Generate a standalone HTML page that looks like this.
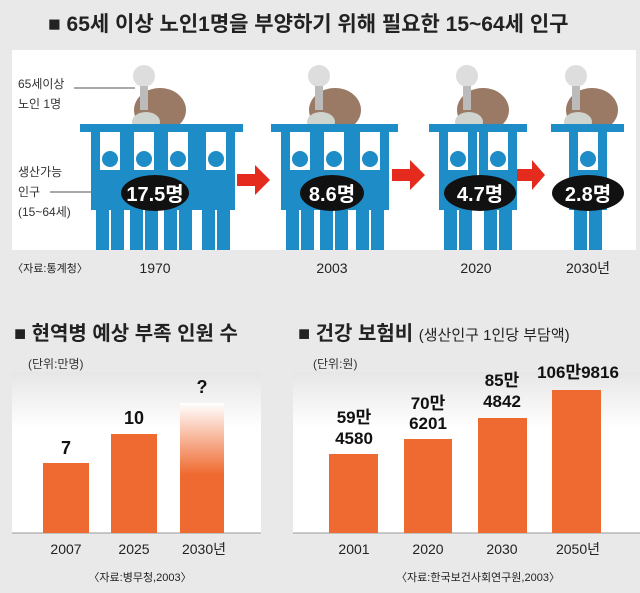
<!DOCTYPE html>
<html><head><meta charset="utf-8"><style>
body{margin:0;background:#e9e9e9;}
svg{display:block}
text{font-family:"Liberation Sans","Noto Sans CJK KR",sans-serif;}
</style></head><body>
<svg width="640" height="593" viewBox="0 0 640 593" xmlns="http://www.w3.org/2000/svg">
<defs>
<g id="p">
<rect x="1" y="0" width="9" height="52" fill="#1e8cc6"/>
<rect x="30" y="0" width="9" height="52" fill="#1e8cc6"/>
<circle cx="20" cy="31" r="8" fill="#1e8cc6"/>
<path d="M1 50 Q1 42 10 42 L30 42 Q39 42 39 50 L39 82 L1 82Z" fill="#1e8cc6"/>
<rect x="6" y="80" width="13" height="42" fill="#1e8cc6"/>
<rect x="21" y="80" width="13" height="42" fill="#1e8cc6"/>
</g>
<g id="m">
<ellipse cx="30" cy="50" rx="26" ry="22" fill="#9a7a64"/>
<ellipse cx="16" cy="62" rx="14" ry="10" fill="#cfd4cf"/>
<circle cx="14" cy="16" r="11" fill="#ddd"/>
<rect x="10" y="26" width="8" height="24" fill="#bbb"/>
</g>
<linearGradient id="bg" x1="0" y1="0" x2="0" y2="1"><stop offset="0" stop-color="#e6e6e6"/><stop offset="0.35" stop-color="#fff"/><stop offset="1" stop-color="#fff"/></linearGradient>
<linearGradient id="q" x1="0" y1="0" x2="0" y2="1"><stop offset="0" stop-color="#fff"/><stop offset="0.55" stop-color="#ef6a30"/><stop offset="1" stop-color="#ef6a30"/></linearGradient>
</defs>
<rect x="12" y="50" width="624" height="200" fill="#fff"/>
<text x="48" y="31" font-size="21" font-weight="bold" fill="#222">■ 65세 이상 노인1명을 부양하기 위해 필요한 15~64세 인구</text>
<text x="18" y="88" font-size="12" fill="#333">65세이상</text>
<text x="18" y="108" font-size="12" fill="#333">노인 1명</text>
<line x1="74" y1="88" x2="135" y2="88" stroke="#555"/>
<text x="18" y="176" font-size="12" fill="#333">생산가능</text>
<text x="18" y="196" font-size="12" fill="#333">인구</text>
<text x="18" y="216" font-size="12" fill="#333">(15~64세)</text>
<line x1="50" y1="192" x2="105" y2="192" stroke="#555"/>
<!-- groups -->
<g>
<use href="#m" x="130" y="60"/>
<rect x="80" y="124" width="163" height="8" fill="#1e8cc6"/>
<use href="#p" x="90" y="128"/><use href="#p" x="124" y="128"/><use href="#p" x="158" y="128"/><use href="#p" x="196" y="128"/>
<ellipse cx="155" cy="193" rx="34" ry="18" fill="#111"/>
<text x="155" y="201" font-size="20" font-weight="bold" fill="#fff" text-anchor="middle">17.5명</text>
</g>
<g>
<use href="#m" x="305" y="60"/>
<rect x="271" y="124" width="127" height="8" fill="#1e8cc6"/>
<use href="#p" x="280" y="128"/><use href="#p" x="314" y="128"/><use href="#p" x="350" y="128"/>
<ellipse cx="332" cy="193" rx="32" ry="18" fill="#111"/>
<text x="332" y="201" font-size="20" font-weight="bold" fill="#fff" text-anchor="middle">8.6명</text>
</g>
<g>
<use href="#m" x="453" y="60"/>
<rect x="429" y="124" width="98" height="8" fill="#1e8cc6"/>
<use href="#p" x="438" y="128"/><use href="#p" x="478" y="128"/>
<ellipse cx="480" cy="193" rx="36" ry="18" fill="#111"/>
<text x="480" y="201" font-size="20" font-weight="bold" fill="#fff" text-anchor="middle">4.7명</text>
</g>
<g>
<use href="#m" x="562" y="60"/>
<rect x="551" y="124" width="73" height="8" fill="#1e8cc6"/>
<use href="#p" x="568" y="128"/>
<ellipse cx="588" cy="193" rx="36" ry="18" fill="#111"/>
<text x="588" y="201" font-size="20" font-weight="bold" fill="#fff" text-anchor="middle">2.8명</text>
</g>
<g fill="#e52a1e">
<path d="M237 174h18v-9l15 15-15 15v-9h-18z"/>
<path d="M392 169h18v-9l15 15-15 15v-9h-18z"/>
<path d="M517 169h15v-9l13 15-13 15v-9h-15z"/>
</g>
<g font-size="14" fill="#222" text-anchor="middle">
<text x="155" y="273">1970</text><text x="332" y="273">2003</text><text x="476" y="273">2020</text><text x="588" y="273">2030년</text>
<text x="50" y="272" font-size="11">〈자료:통계청〉</text>
</g>
<!-- bottom left -->
<rect x="12" y="372" width="249" height="161" fill="url(#bg)"/>
<line x1="12" y1="533" x2="261" y2="533" stroke="#999"/>
<text x="14" y="340" font-size="20" font-weight="bold" fill="#222">■ 현역병 예상 부족 인원 수</text>
<text x="28" y="368" font-size="12" fill="#333">(단위:만명)</text>
<rect x="43" y="463" width="46" height="70" fill="#ef6a30"/>
<rect x="111" y="434" width="46" height="99" fill="#ef6a30"/>
<rect x="180" y="403" width="44" height="130" fill="url(#q)"/>
<g font-size="18" font-weight="bold" fill="#111" text-anchor="middle">
<text x="66" y="454">7</text><text x="134" y="424">10</text><text x="202" y="393">?</text>
</g>
<g font-size="14" fill="#222" text-anchor="middle">
<text x="66" y="554">2007</text><text x="134" y="554">2025</text><text x="204" y="554">2030년</text>
<text x="140" y="581" font-size="11">〈자료:병무청,2003〉</text>
</g>
<!-- bottom right -->
<rect x="293" y="372" width="347" height="161" fill="url(#bg)"/>
<line x1="293" y1="533" x2="640" y2="533" stroke="#999"/>
<text x="298" y="340" font-size="20" font-weight="bold" fill="#222">■ 건강 보험비 <tspan font-size="15" font-weight="normal">(생산인구 1인당 부담액)</tspan></text>
<text x="313" y="368" font-size="12" fill="#333">(단위:원)</text>
<rect x="329" y="454" width="49" height="79" fill="#ef6a30"/>
<rect x="404" y="439" width="48" height="94" fill="#ef6a30"/>
<rect x="478" y="418" width="49" height="115" fill="#ef6a30"/>
<rect x="552" y="390" width="49" height="143" fill="#ef6a30"/>
<g font-size="17" font-weight="bold" fill="#111" text-anchor="middle">
<text x="354" y="423">59만</text><text x="354" y="444">4580</text>
<text x="428" y="409">70만</text><text x="428" y="429">6201</text>
<text x="502" y="386">85만</text><text x="502" y="407">4842</text>
<text x="578" y="378">106만9816</text>
</g>
<g font-size="14" fill="#222" text-anchor="middle">
<text x="354" y="554">2001</text><text x="428" y="554">2020</text><text x="502" y="554">2030</text><text x="578" y="554">2050년</text>
<text x="478" y="581" font-size="11">〈자료:한국보건사회연구원,2003〉</text>
</g>
</svg>
</body></html>
